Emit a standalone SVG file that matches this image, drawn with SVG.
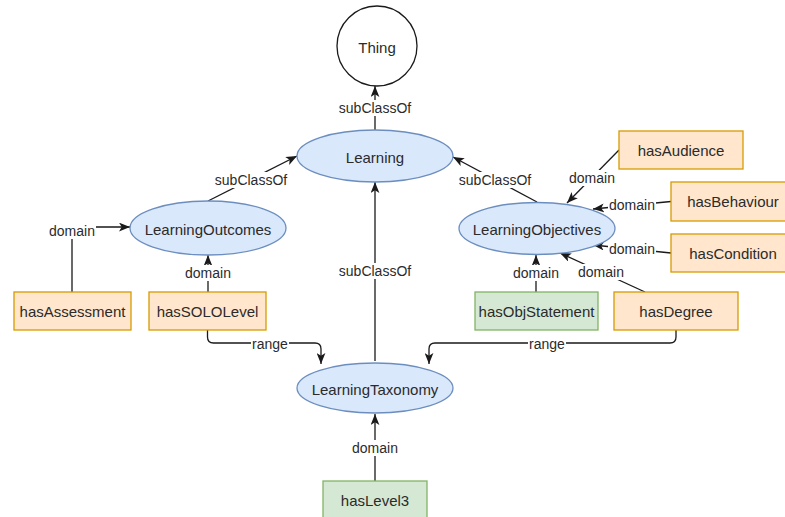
<svg xmlns="http://www.w3.org/2000/svg" width="785" height="517" viewBox="0 0 785 517">
  <defs>
    <marker id="arrow" viewBox="0 0 10 8" refX="10" refY="4" markerWidth="11" markerHeight="9" markerUnits="userSpaceOnUse" orient="auto">
      <path d="M0,0 L10,4 L0,8 L2.5,4 Z" fill="#1a1a1a"/>
    </marker>
    <style>
      .cls { fill: #dae8fc; stroke: #6c8ebf; stroke-width: 1.3; }
      .thing { fill: #ffffff; stroke: #1a1a1a; stroke-width: 1.3; }
      .prop { fill: #ffe6cc; stroke: #d79b00; stroke-width: 1.3; }
      .data { fill: #d5e8d4; stroke: #82b366; stroke-width: 1.3; }
      .lbl { font-family: "Liberation Sans", Arial, sans-serif; font-size: 15px; fill: #2b2b2b; text-anchor: middle; dominant-baseline: central; }
      .edge { fill: none; stroke: #1a1a1a; stroke-width: 1.3; marker-end: url(#arrow); }
      .ebg { fill: #ffffff; }
      .etxt { font-family: "Liberation Sans", Arial, sans-serif; font-size: 14px; fill: #2b2b2b; text-anchor: middle; dominant-baseline: central; }
    </style>
  </defs>
  <rect width="785" height="517" fill="#ffffff"/>

  <!-- connectors -->
  <g id="edges">
    <path class="edge" d="M375,130 L375,86"/>
    <path class="edge" d="M208,201 L297,156"/>
    <path class="edge" d="M537,202 L453,157"/>
    <path class="edge" d="M375,361 L375,182"/>
    <path class="edge" d="M72,292 L72,227 L130,227"/>
    <path class="edge" d="M208,292 L208,255"/>
    <path class="edge" d="M536,292 L536,255"/>
    <path class="edge" d="M645,292 L560,253"/>
    <path class="edge" d="M671,253 L593,245"/>
    <path class="edge" d="M671,201.5 L593,209"/>
    <path class="edge" d="M619,150 L567,203"/>
    <path class="edge" d="M207.5,330 L207.5,337 Q207.5,343 213.5,343 L315,343 Q321,343 321,349 L321,364"/>
    <path class="edge" d="M676,330 L676,337 Q676,343 670,343 L435,343 Q429,343 429,349 L429,364"/>
    <path class="edge" d="M375,481 L375,414"/>

    <!-- edge labels -->
    <rect class="ebg" x="338" y="100" width="74" height="16"/>
    <text class="etxt" x="375" y="108">subClassOf</text>
    <rect class="ebg" x="214" y="172" width="74" height="16"/>
    <text class="etxt" x="251" y="180">subClassOf</text>
    <rect class="ebg" x="458" y="172" width="74" height="16"/>
    <text class="etxt" x="495" y="180">subClassOf</text>
    <rect class="ebg" x="338" y="263" width="74" height="16"/>
    <text class="etxt" x="375" y="271">subClassOf</text>
    <rect class="ebg" x="48" y="223" width="48" height="16"/>
    <text class="etxt" x="72" y="231">domain</text>
    <rect class="ebg" x="184" y="265" width="48" height="16"/>
    <text class="etxt" x="208" y="273">domain</text>
    <rect class="ebg" x="512" y="265" width="48" height="16"/>
    <text class="etxt" x="536" y="273">domain</text>
    <rect class="ebg" x="577" y="264" width="48" height="16"/>
    <text class="etxt" x="601" y="272">domain</text>
    <rect class="ebg" x="608" y="241" width="48" height="16"/>
    <text class="etxt" x="632" y="249">domain</text>
    <rect class="ebg" x="608" y="197" width="48" height="16"/>
    <text class="etxt" x="632" y="205">domain</text>
    <rect class="ebg" x="568" y="170" width="48" height="16"/>
    <text class="etxt" x="592" y="178">domain</text>
    <rect class="ebg" x="251" y="336" width="38" height="16"/>
    <text class="etxt" x="270" y="344">range</text>
    <rect class="ebg" x="528" y="336" width="38" height="16"/>
    <text class="etxt" x="547" y="344">range</text>
    <rect class="ebg" x="351" y="440" width="48" height="16"/>
    <text class="etxt" x="375" y="448">domain</text>
  </g>

  <!-- classes -->
  <g id="thing">
    <circle class="thing" cx="377" cy="46" r="40"/>
    <text class="lbl" x="377" y="47">Thing</text>
  </g>
  <g id="learning">
    <ellipse class="cls" cx="375" cy="156" rx="78" ry="26"/>
    <text class="lbl" x="375" y="157">Learning</text>
  </g>
  <g id="learning-outcomes">
    <ellipse class="cls" cx="208" cy="228" rx="78" ry="27"/>
    <text class="lbl" x="208" y="229">LearningOutcomes</text>
  </g>
  <g id="learning-objectives">
    <ellipse class="cls" cx="537" cy="228.5" rx="78" ry="26"/>
    <text class="lbl" x="537" y="229">LearningObjectives</text>
  </g>
  <g id="learning-taxonomy">
    <ellipse class="cls" cx="375" cy="388" rx="78" ry="25"/>
    <text class="lbl" x="375" y="389">LearningTaxonomy</text>
  </g>

  <!-- properties -->
  <g id="has-assessment">
    <rect class="prop" x="14" y="292" width="117" height="38"/>
    <text class="lbl" x="72.5" y="311">hasAssessment</text>
  </g>
  <g id="has-solo-level">
    <rect class="prop" x="149" y="292" width="117" height="38"/>
    <text class="lbl" x="207.5" y="311">hasSOLOLevel</text>
  </g>
  <g id="has-obj-statement">
    <rect class="data" x="475" y="292" width="123" height="38"/>
    <text class="lbl" x="536.5" y="311">hasObjStatement</text>
  </g>
  <g id="has-degree">
    <rect class="prop" x="614" y="292" width="124" height="38"/>
    <text class="lbl" x="676" y="311">hasDegree</text>
  </g>
  <g id="has-audience">
    <rect class="prop" x="619" y="131" width="124" height="38"/>
    <text class="lbl" x="681" y="150">hasAudience</text>
  </g>
  <g id="has-behaviour">
    <rect class="prop" x="671" y="182" width="124" height="39"/>
    <text class="lbl" x="733" y="201.5">hasBehaviour</text>
  </g>
  <g id="has-condition">
    <rect class="prop" x="671" y="234" width="124" height="38"/>
    <text class="lbl" x="733" y="253">hasCondition</text>
  </g>
  <g id="has-level3">
    <rect class="data" x="323" y="481" width="104" height="40"/>
    <text class="lbl" x="375" y="500">hasLevel3</text>
  </g>
</svg>
